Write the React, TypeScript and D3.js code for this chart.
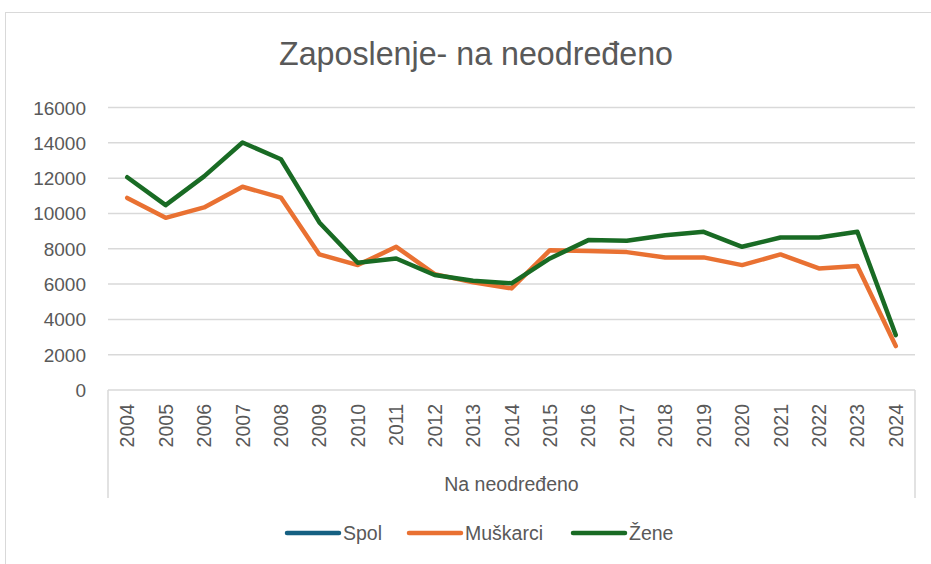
import { useEffect, useRef } from 'react';
import * as d3 from 'd3';

const years = ['2004', '2005', '2006', '2007', '2008', '2009', '2010', '2011', '2012', '2013', '2014',
    '2015', '2016', '2017', '2018', '2019', '2020', '2021', '2022', '2023', '2024'];
const muskarci = [10880, 9750, 10340, 11510, 10900, 7680, 7075, 8110, 6565, 6095, 5755,
    7920, 7870, 7810, 7510, 7510, 7075, 7680, 6885, 7020, 2490];
const zene = [12050, 10470, 12100, 14020, 13070, 9490, 7205, 7450, 6510, 6190, 6040,
    7450, 8490, 8450, 8770, 8960, 8110, 8640, 8640, 8960, 3110];
const yTicks = [0, 2000, 4000, 6000, 8000, 10000, 12000, 14000, 16000];
const legendItems = [
    { name: 'Spol', color: '#156082' },
    { name: 'Muškarci', color: '#E97132' },
    { name: 'Žene', color: '#196B24' },
];

const W = 931;
const H = 564;
const TEXT = '#595959';
const GRID = '#D9D9D9';
const SANS = '"Liberation Sans", Arial, sans-serif';

export default function App() {
    const svgRef = useRef<SVGSVGElement>(null);

    useEffect(() => {
        const svg = d3.select(svgRef.current);
        svg.selectAll('*').remove();

        const plot = { left: 108, right: 915, top: 107.5, bottom: 390 };

        // chart border
        svg.append('rect')
            .attr('x', 5.5).attr('y', 12.5)
            .attr('width', W).attr('height', H)
            .attr('fill', 'white').attr('stroke', GRID);

        // title (narrow font is not installed, so squeeze a regular one)
        svg.append('text')
            .attr('x', 476).attr('y', 65)
            .attr('text-anchor', 'middle')
            .attr('fill', TEXT)
            .attr('textLength', 394)
            .attr('lengthAdjust', 'spacingAndGlyphs')
            .style('font-family', SANS)
            .style('font-size', '34px')
            .text('Zaposlenje- na neodređeno');

        const x = d3.scaleBand().domain(years).range([plot.left, plot.right]);
        const y = d3.scaleLinear().domain([0, 16000]).range([plot.bottom, plot.top]);
        const cx = (d: string) => (x(d) as number) + x.bandwidth() / 2;

        // grid + y labels
        const yAxis = svg.append('g');
        yAxis.selectAll('line')
            .data(yTicks.filter((t) => t > 0))
            .join('line')
            .attr('x1', plot.left).attr('x2', plot.right)
            .attr('y1', (d) => y(d)).attr('y2', (d) => y(d))
            .attr('stroke', GRID).attr('stroke-width', 1.5);
        yAxis.selectAll('text')
            .data(yTicks)
            .join('text')
            .attr('x', 86).attr('y', (d) => y(d) + 7)
            .attr('text-anchor', 'end')
            .attr('fill', TEXT)
            .style('font-family', SANS)
            .style('font-size', '19px')
            .text((d) => d);

        // multi-level category axis
        const xAxis = svg.append('g').attr('stroke', GRID).attr('stroke-width', 1.5);
        xAxis.append('line')
            .attr('x1', plot.left).attr('x2', plot.right)
            .attr('y1', plot.bottom).attr('y2', plot.bottom);
        xAxis.append('line')
            .attr('x1', plot.left).attr('x2', plot.left)
            .attr('y1', plot.bottom).attr('y2', 498);
        xAxis.append('line')
            .attr('x1', plot.right).attr('x2', plot.right)
            .attr('y1', plot.bottom).attr('y2', 498);

        svg.append('g')
            .selectAll('text')
            .data(years)
            .join('text')
            .attr('transform', (d) => `translate(${cx(d) + 7},404) rotate(-90)`)
            .attr('text-anchor', 'end')
            .attr('fill', TEXT)
            .style('font-family', SANS)
            .style('font-size', '19.5px')
            .text((d) => d);

        svg.append('text')
            .attr('x', (plot.left + plot.right) / 2).attr('y', 491)
            .attr('text-anchor', 'middle')
            .attr('fill', TEXT)
            .style('font-family', SANS)
            .style('font-size', '19.5px')
            .text('Na neodređeno');

        // lines
        const line = d3.line<number>()
            .x((_, i) => cx(years[i]))
            .y((d) => y(d));

        [muskarci, zene].forEach((series, i) => {
            svg.append('path')
                .datum(series)
                .attr('d', line)
                .attr('fill', 'none')
                .attr('stroke', legendItems[i + 1].color)
                .attr('stroke-width', 4.5)
                .attr('stroke-linejoin', 'round')
                .attr('stroke-linecap', 'round');
        });

        // legend
        const legendX = [286, 408, 572];
        const legend = svg.append('g')
            .selectAll('g')
            .data(legendItems)
            .join('g')
            .attr('transform', (_, i) => `translate(${legendX[i]},533)`);
        legend.append('line')
            .attr('x1', 1).attr('x2', 53)
            .attr('stroke', (d) => d.color)
            .attr('stroke-width', 4.5)
            .attr('stroke-linecap', 'round');
        legend.append('text')
            .attr('x', 57).attr('y', 7)
            .attr('fill', TEXT)
            .style('font-family', SANS)
            .style('font-size', '19.5px')
            .text((d) => d.name);
    }, []);

    return (
        <svg ref={svgRef} width={W} height={H}
            style={{ position: 'absolute', left: 0, top: 0, display: 'block' }} />
    );
}
